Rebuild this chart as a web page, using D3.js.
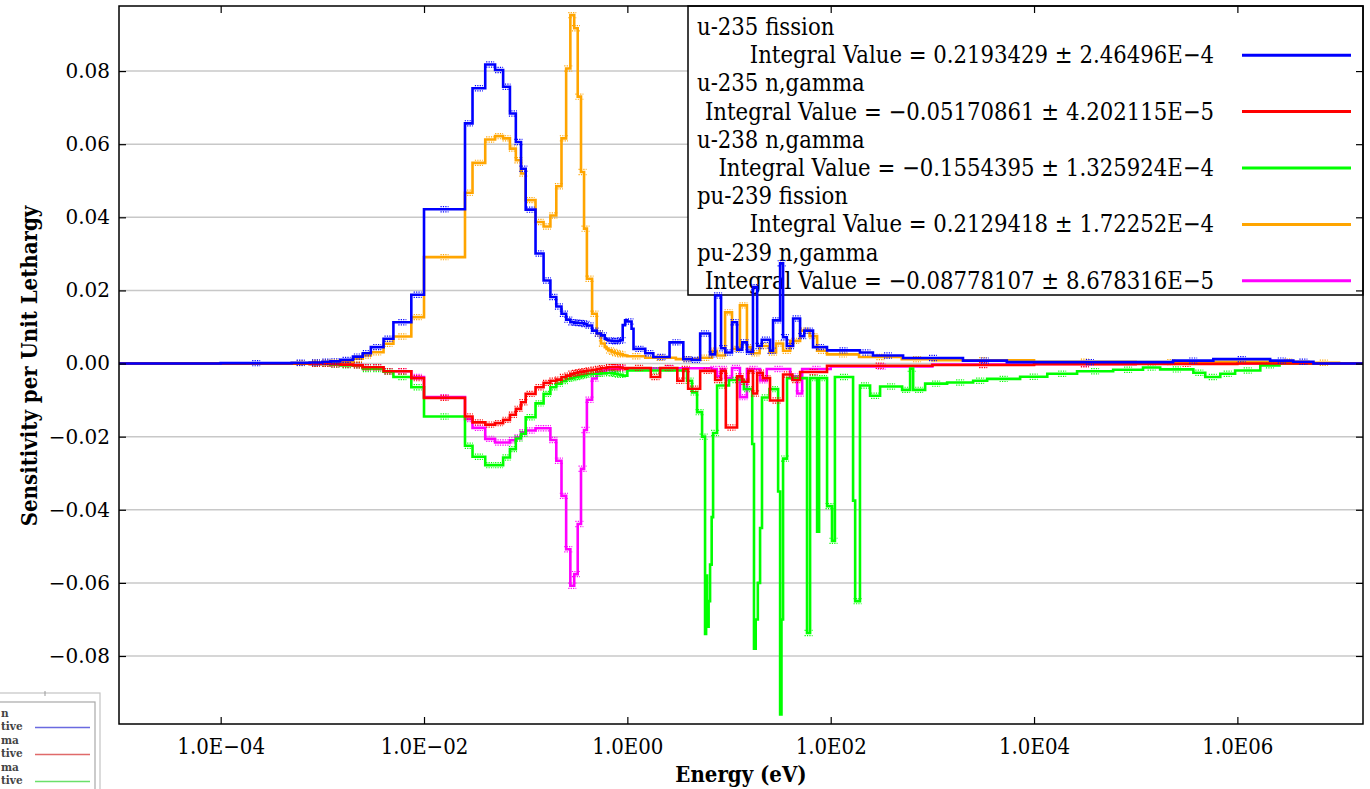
<!DOCTYPE html>
<html><head><meta charset="utf-8">
<script src="https://cdn.jsdelivr.net/npm/d3@7"></script>
<style>body{margin:0;background:#fff;} svg{display:block;}</style>
</head><body>
<svg id="chart" width="1370" height="789"></svg>
<script>
// ---------------- DATA ----------------
const xTickValues = [1e-4, 1e-2, 1, 1e2, 1e4, 1e6];
const xTickLabels = ["1.0E\u221204", "1.0E\u221202", "1.0E00", "1.0E02", "1.0E04", "1.0E06"];
const yTickValues = [-0.08, -0.06, -0.04, -0.02, 0, 0.02, 0.04, 0.06, 0.08];

const seriesNames = ["u-235 fission", "u-235 n,gamma", "u-238 n,gamma", "pu-239 fission", "pu-239 n,gamma"];
const integralLabels = [
  "Integral Value = 0.2193429 \u00b1 2.46496E\u22124",
  "Integral Value = \u22120.05170861 \u00b1 4.202115E\u22125",
  "Integral Value = \u22120.1554395 \u00b1 1.325924E\u22124",
  "Integral Value = 0.2129418 \u00b1 1.72252E\u22124",
  "Integral Value = \u22120.08778107 \u00b1 8.678316E\u22125"
];
const seriesColors = ["#0000ff", "#ff0000", "#00ff00", "#ffa500", "#ff00ff"];

// thermal group lower bounds (eV), shared by all series
const thermalE = [1e-5, 1e-4, 5e-4, 7.5e-4, 1e-3, 1.2e-3, 1.5e-3, 2e-3, 2.5e-3, 3e-3, 4e-3, 5e-3, 7.5e-3,
  1e-2, 2.53e-2, 3e-2, 4e-2, 5e-2, 6e-2, 7e-2, 8e-2, 9e-2, 0.1, 0.125, 0.15, 0.175, 0.2, 0.225, 0.25,
  0.275, 0.3, 0.325, 0.35, 0.375, 0.4, 0.45, 0.5, 0.55, 0.6, 0.625, 0.65, 0.7, 0.75, 0.8, 0.85, 0.9, 0.95];

const u235FissionThermal = [0, 0.0001, 0.0002, 0.0003, 0.0005, 0.0006, 0.001, 0.0019, 0.0028, 0.0045, 0.0068, 0.0113, 0.0188,
  0.0422, 0.0657, 0.0753, 0.0818, 0.0803, 0.0757, 0.0684, 0.0606, 0.0533, 0.0421, 0.0301, 0.0227, 0.0182, 0.0156, 0.0136, 0.012,
  0.0113, 0.0112, 0.0111, 0.011, 0.0108, 0.0104, 0.009, 0.0082, 0.0077, 0.0068, 0.0065, 0.0063, 0.0062, 0.0061, 0.0062, 0.0064, 0.0105, 0.0118];
const u235FissionResE = [1.0, 1.1, 1.15, 1.5, 1.8, 2.6, 3.55, 4.3, 5.2, 6.5, 7.3, 8.35, 9.2, 10.7, 12.0, 13.5, 15, 17.2, 18.9, 21,
  25.3, 27.1, 31.8, 34.0, 37, 42.7, 50, 55, 67, 92, 194, 260, 515, 2000, 5400, 2.33e5, 5.8e5, 2.1e6, 3.55e6, 5.6e6, 1.72e7];
const u235FissionResS = [0.0115, 0.0095, 0.004, 0.0028, 0.0018, 0.0058, 0.0012, 0.001, 0.0082, 0.0025, 0.0186, 0.0042, 0.003, 0.0113,
  0.0038, 0.0058, 0.0032, 0.0209, 0.0048, 0.0065, 0.0035, 0.0118, 0.0274, 0.0072, 0.0048, 0.0123, 0.0075, 0.009, 0.0045, 0.0036,
  0.003, 0.0022, 0.0015, 0.0008, 0.0004, 0.0008, 0.0012, 0.0008, 0.0005, 0, 0];

const u235CaptureThermal = [0, 0, 0, -0.0001, -0.0001, -0.0002, -0.0003, -0.0005, -0.001, -0.001, -0.0021, -0.0021, -0.004,
  -0.0094, -0.0145, -0.0161, -0.0167, -0.0163, -0.0154, -0.014, -0.0124, -0.0106, -0.0083, -0.0065, -0.0053, -0.0047, -0.0044,
  -0.0037, -0.0033, -0.0028, -0.0026, -0.0024, -0.0022, -0.0021, -0.0019, -0.0017, -0.0015, -0.0013, -0.0012, -0.0011, -0.001,
  -0.001, -0.001, -0.001, -0.0011, -0.0012, -0.0014];
const u235CaptureResE = [1.0, 1.7, 2.1, 3.1, 3.55, 3.96, 5.2, 7.3, 8.35, 9.3, 12.0, 13.5, 15.5, 17.2, 18.9, 21.5, 25.3, 34, 42, 50,
  92, 1000, 1e4, 1e5, 1e6, 1.72e7];
const u235CaptureResS = [-0.0012, -0.0037, -0.0012, -0.0047, -0.0015, -0.0069, -0.002, -0.0045, -0.002, -0.0175, -0.0035, -0.005,
  -0.002, -0.0082, -0.0025, -0.004, -0.0101, -0.003, -0.0045, -0.0023, -0.0006, -0.0004, -0.0002, -0.0001, 0, 0];

const u238CaptureThermal = [0, 0, 0, -0.0001, -0.0001, -0.0003, -0.0005, -0.0005, -0.0015, -0.0015, -0.0022, -0.0037, -0.0065,
  -0.0145, -0.0225, -0.0255, -0.0278, -0.0278, -0.0257, -0.0234, -0.0205, -0.0192, -0.0147, -0.0109, -0.0083, -0.0065, -0.0055,
  -0.0048, -0.0042, -0.004, -0.0037, -0.0035, -0.0033, -0.0031, -0.0029, -0.0028, -0.0028, -0.0027, -0.0027, -0.0026, -0.0026,
  -0.0027, -0.0028, -0.003, -0.0031, -0.0033, -0.0033];
const u238CaptureResE = [1.0, 3.87, 4.33, 4.85, 5.43, 5.81, 5.95, 6.08, 6.3, 6.51, 6.75, 6.97, 7.63, 10, 14, 16.9, 17.6, 18.3, 19.2,
  20.2, 21.1, 25, 30.4, 31.8, 32.8, 34.0, 37.2, 58.5, 62.7, 73.5, 76.9, 92.1, 103, 110, 166, 174, 194, 244, 306, 504, 604, 647,
  849, 1397, 2518, 3457, 7295, 1.35e4, 2.65e4, 6.0e4, 1.18e5, 1.74e5, 3.69e5, 4.83e5, 6.79e5, 9.5e5, 1.68e6, 2.6e6, 1.72e7];
const u238CaptureResS = [-0.0019, -0.0047, -0.0079, -0.0133, -0.02, -0.074, -0.058, -0.072, -0.065, -0.055, -0.042, -0.019,
  -0.006, -0.0045, -0.007, -0.022, -0.078, -0.07, -0.06, -0.045, -0.0093, -0.007, -0.035, -0.096, -0.07, -0.026, -0.004,
  -0.0737, -0.004, -0.046, -0.004, -0.039, -0.0485, -0.0037, -0.0375, -0.065, -0.006, -0.0088, -0.0063, -0.0072, -0.0014,
  -0.0072, -0.0055, -0.0052, -0.0047, -0.0042, -0.0036, -0.0028, -0.0021, -0.0017, -0.0011, -0.0016, -0.0025, -0.0037,
  -0.0028, -0.0019, -0.0005, 0, 0];

const pu239FissionThermal = [0, 0, 0.0001, 0.0002, 0.0003, 0.0003, 0.0004, 0.0013, 0.0022, 0.0031, 0.0054, 0.0074, 0.0127,
  0.0291, 0.0467, 0.0549, 0.0613, 0.0622, 0.0616, 0.0588, 0.0556, 0.052, 0.0447, 0.0387, 0.0375, 0.0405, 0.0485, 0.0616, 0.0807,
  0.0953, 0.0917, 0.073, 0.0524, 0.0369, 0.0232, 0.0136, 0.0082, 0.0055, 0.0045, 0.004, 0.0036, 0.0032, 0.0029, 0.0027, 0.0025,
  0.0023, 0.0022];
const pu239FissionResE = [1.0, 1.5, 3, 5, 6.8, 7.6, 9.15, 10.7, 12.8, 15.0, 16.5, 20, 25, 29, 34, 40, 50, 62, 73.5, 92, 190, 500,
  1000, 1e4, 1e5, 5e5, 2e6, 5e6, 1e7, 1.72e7];
const pu239FissionResS = [0.002, 0.0016, 0.0012, 0.0016, 0.0035, 0.0022, 0.014, 0.004, 0.0159, 0.0045, 0.0028, 0.0048, 0.003,
  0.0055, 0.0035, 0.0062, 0.009, 0.0075, 0.0035, 0.0025, 0.0018, 0.0012, 0.0009, 0.0005, 0.0004, 0.0005, 0.0005, 0.0002, 0, 0];

const pu239CaptureThermal = [0, 0, 0, -0.0001, -0.0001, -0.0002, -0.0003, -0.0004, -0.001, -0.001, -0.0021, -0.0021, -0.0037,
  -0.0092, -0.0152, -0.0176, -0.0206, -0.0216, -0.0216, -0.021, -0.0202, -0.0188, -0.0183, -0.0177, -0.0177, -0.0209, -0.0266,
  -0.0362, -0.0508, -0.0608, -0.0576, -0.0439, -0.0288, -0.0182, -0.0099, -0.0041, -0.0024, -0.002, -0.0018, -0.0017, -0.0016,
  -0.0015, -0.0014, -0.0014, -0.0013, -0.0013, -0.0013];
const pu239CaptureResE = [1.0, 6.8, 7.6, 8.3, 9.15, 10.7, 12.8, 15.0, 20.2, 23.5, 40, 46.8, 52.4, 100, 1000, 1e4, 1e5, 1.72e7];
const pu239CaptureResS = [-0.0013, -0.0015, -0.0035, -0.0015, -0.004, -0.0012, -0.0092, -0.0015, -0.0046, -0.0015, -0.0035,
  -0.0082, -0.0015, -0.0008, -0.0003, -0.0001, 0, 0];

// ---------------- BUILD ----------------
const thermals = [u235FissionThermal, u235CaptureThermal, u238CaptureThermal, pu239FissionThermal, pu239CaptureThermal];
const resE = [u235FissionResE, u235CaptureResE, u238CaptureResE, pu239FissionResE, pu239CaptureResE];
const resS = [u235FissionResS, u235CaptureResS, u238CaptureResS, pu239FissionResS, pu239CaptureResS];
const series = seriesNames.map((name, k) => ({
  name, color: seriesColors[k], integral: integralLabels[k],
  pts: thermalE.map((e, i) => ({e, v: thermals[k][i]}))
        .concat(resE[k].map((e, i) => ({e, v: resS[k][i]})))
}));

const P = {left: 119, right: 1363, top: 6, bottom: 724};
const svg = d3.select("#chart");
const x = d3.scaleLog().domain([1e-5, 1.72e7]).range([P.left, P.right]);
const y = d3.scaleLinear().domain([-0.0986, 0.0978]).range([P.bottom, P.top]);

svg.append("rect").attr("width", 1370).attr("height", 789).attr("fill", "#fff");

// grid
svg.append("g").selectAll("line").data(yTickValues).join("line")
  .attr("x1", P.left).attr("x2", P.right)
  .attr("y1", d => y(d)).attr("y2", d => y(d))
  .attr("stroke", "#c8c8c8").attr("stroke-width", 1.5);

// legend (drawn beneath the curves, as in the reference)
const L = {x: 688, y: 6, w: 675, h: 289, row: 28.2, base: 35};
const leg = svg.append("g");
leg.append("rect").attr("x", L.x).attr("y", L.y).attr("width", L.w).attr("height", L.h)
  .attr("fill", "#fff").attr("stroke", "#000").attr("stroke-width", 1.5);
series.forEach((s, k) => {
  const b1 = L.base + L.row * (2 * k), b2 = L.base + L.row * (2 * k + 1);
  leg.append("text").attr("transform", `translate(697,${b1}) scale(0.885,1)`)
    .attr("font-family", "DejaVu Serif").attr("font-size", 24).text(s.name);
  leg.append("text").attr("transform", `translate(1214,${b2}) scale(0.885,1)`).attr("text-anchor", "end")
    .attr("font-family", "DejaVu Serif").attr("font-size", 24).text(s.integral);
  leg.append("line").attr("x1", 1242).attr("x2", 1351).attr("y1", b2 - 8).attr("y2", b2 - 8)
    .attr("stroke", s.color).attr("stroke-width", 3);
});

// clip
svg.append("clipPath").attr("id", "clip").append("rect")
  .attr("x", P.left).attr("y", P.top).attr("width", P.right - P.left).attr("height", P.bottom - P.top);

const line = d3.line().x(d => x(d.e)).y(d => y(d.v)).curve(d3.curveStepAfter);
const plotG = svg.append("g").attr("clip-path", "url(#clip)");

[...series].reverse().forEach(s => {
  // small error-bar caps at bin centres
  let caps = "";
  for (let i = 0; i < s.pts.length - 1; i++) {
    const x0 = x(s.pts[i].e), x1 = x(s.pts[i + 1].e);
    if (s.pts[i].v === 0 || x1 - x0 < 2.5) continue;
    const cx = (x0 + x1) / 2, cy = y(s.pts[i].v);
    caps += `M${cx - 4},${cy - 2.6}h8M${cx - 4},${cy + 2.6}h8`;
  }
  plotG.append("path").attr("d", caps).attr("fill", "none")
    .attr("stroke", s.color).attr("stroke-width", 1.2).attr("stroke-dasharray", "1.2,1.2");
  plotG.append("path").datum(s.pts).attr("d", line).attr("fill", "none")
    .attr("stroke", s.color).attr("stroke-width", 2.6).attr("stroke-linejoin", "miter");
});

// axes
const bottomAxis = svg.append("g").attr("transform", `translate(0,${P.bottom})`)
  .call(d3.axisBottom(x).tickValues(xTickValues).tickFormat((d, i) => xTickLabels[i])
    .tickSizeInner(-7).tickSizeOuter(0).tickPadding(0));
bottomAxis.select(".domain").remove();
bottomAxis.selectAll(".tick line").attr("stroke", "#000").attr("stroke-width", 1.2);
bottomAxis.selectAll(".tick text").attr("y", 0).attr("dy", 0)
  .attr("transform", "translate(0,30) scale(0.9,1)")
  .attr("font-family", "DejaVu Serif").attr("font-size", 22).attr("fill", "#000");

const topAxis = svg.append("g").attr("transform", `translate(0,${P.top})`)
  .call(d3.axisTop(x).tickValues(xTickValues).tickFormat("").tickSizeInner(-7).tickSizeOuter(0));
topAxis.select(".domain").remove();
topAxis.selectAll(".tick line").attr("stroke", "#000").attr("stroke-width", 1.2);

const leftAxis = svg.append("g").attr("transform", `translate(${P.left},0)`)
  .call(d3.axisLeft(y).tickValues(yTickValues).tickFormat(d3.format(".2f"))
    .tickSizeInner(-7).tickSizeOuter(0).tickPadding(9));
leftAxis.select(".domain").remove();
leftAxis.selectAll(".tick line").attr("stroke", "#000").attr("stroke-width", 1.2);
leftAxis.selectAll(".tick text").attr("font-family", "DejaVu Serif").attr("font-size", 20).attr("fill", "#000");

const rightAxis = svg.append("g").attr("transform", `translate(${P.right},0)`)
  .call(d3.axisRight(y).tickValues(yTickValues).tickFormat("").tickSizeInner(-7).tickSizeOuter(0));
rightAxis.select(".domain").remove();
rightAxis.selectAll(".tick line").attr("stroke", "#000").attr("stroke-width", 1.2);

// frame
svg.append("rect").attr("x", P.left).attr("y", P.top)
  .attr("width", P.right - P.left).attr("height", P.bottom - P.top)
  .attr("fill", "none").attr("stroke", "#000").attr("stroke-width", 1.5);

// axis titles
svg.append("text").attr("transform", "translate(37,366) rotate(-90) scale(0.9,1)")
  .attr("text-anchor", "middle").attr("font-family", "DejaVu Serif").attr("font-weight", "bold")
  .attr("font-size", 22).text("Sensitivity per Unit Lethargy");
svg.append("text").attr("transform", "translate(741,782) scale(0.9,1)")
  .attr("text-anchor", "middle").attr("font-family", "DejaVu Serif").attr("font-weight", "bold")
  .attr("font-size", 22).text("Energy (eV)");

// partial overlapping legend fragment at bottom-left of the screenshot
const frag = svg.append("g");
frag.append("rect").attr("x", -5).attr("y", 693).attr("width", 105).attr("height", 110)
  .attr("fill", "#fff").attr("stroke", "#c4c4c4").attr("stroke-width", 1.2);
frag.append("line").attr("x1", 45).attr("x2", 45).attr("y1", 691).attr("y2", 696).attr("stroke", "#999");
frag.append("rect").attr("x", -5).attr("y", 702).attr("width", 100).attr("height", 100)
  .attr("fill", "#fff").attr("stroke", "#a8a8a8").attr("stroke-width", 1.2);
const fragText = ["n", "tive", "ma", "tive", "ma", "tive"];
const fragColors = ["#6a6ae0", "#e06a6a", "#6ae06a"];
fragText.forEach((t, i) => {
  frag.append("text").attr("x", 1).attr("y", 717 + i * 13.4)
    .attr("font-family", "DejaVu Serif").attr("font-weight", "bold").attr("font-size", 10.5)
    .attr("fill", "#444").text(t);
});
fragColors.forEach((c, i) => {
  frag.append("line").attr("x1", 35).attr("x2", 90).attr("y1", 727.5 + i * 27).attr("y2", 727.5 + i * 27)
    .attr("stroke", c).attr("stroke-width", 1.3);
});
</script>
</body></html>
